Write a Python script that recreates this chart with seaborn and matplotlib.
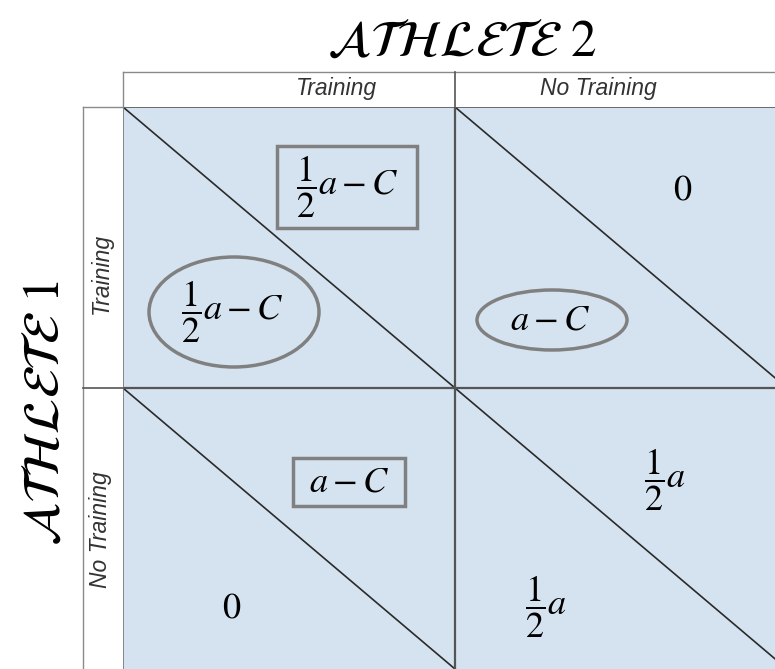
import numpy as np
import pandas as pd
import seaborn as sns
import matplotlib.pyplot as plt
from matplotlib.colors import ListedColormap
from matplotlib.patches import Ellipse, Rectangle

# strategies and payoffs of the game
strategies = ['Training', 'No Training']
# payoff to athlete 1 (lower-left triangle) and athlete 2 (upper-right triangle)
payoff_1 = [[r'\dfrac{1}{2}a-C', r'a-C'], [r'0', r'\dfrac{1}{2}a']]
payoff_2 = [[r'\dfrac{1}{2}a-C', r'0'], [r'a-C', r'\dfrac{1}{2}a']]
# best responses: athlete 1 circled, athlete 2 boxed
best_1 = [[1, 1], [0, 0]]
best_2 = [[1, 0], [1, 0]]

plt.rcParams['mathtext.fontset'] = 'stix'

W, H = 775, 669
fig = plt.figure(figsize=(7.75, 6.69), dpi=100)

# cell grid (pixels)
x0, y0, cw, ch = 123, 107, 332, 281
ax = fig.add_axes([x0 / W, 1 - (y0 + 2 * ch) / H, 2 * cw / W, 2 * ch / H])
df = pd.DataFrame(np.zeros((2, 2)), index=strategies, columns=strategies)
sns.heatmap(df, ax=ax, cmap=ListedColormap(['#d5e3f0']), cbar=False,
            xticklabels=False, yticklabels=False)
for i in range(2):
    for j in range(2):
        ax.plot([j, j + 1], [i, i + 1], color='#2a2a2a', lw=1.2)
ax.axhline(1, color='#555555', lw=1.6)
ax.axvline(1, color='#555555', lw=1.6)
ax.axhline(0, color='#555555', lw=1.2)
ax.axvline(0, color='#777777', lw=1.2)
ax.set_xlim(0, 2)
ax.set_ylim(2, 0)
ax.axis('off')

# overlay in pixel coordinates for headers and payoffs
ov = fig.add_axes([0, 0, 1, 1], facecolor='none')
ov.set_xlim(0, W)
ov.set_ylim(H, 0)
ov.axis('off')

hc = '#8a8a8a'
ov.plot([x0, W], [72, 72], color=hc, lw=1)
ov.plot([x0, x0], [72, y0], color=hc, lw=1)
ov.plot([x0 + cw, x0 + cw], [72, y0], color='#555555', lw=1.2)
ov.plot([83, 83], [y0, H], color=hc, lw=1)
ov.plot([83, x0], [y0, y0], color=hc, lw=1)
ov.plot([83, x0], [y0 + ch, y0 + ch], color='#555555', lw=1.2)

hdr = dict(ha='center', va='center', fontsize=16.5, style='italic',
           family='Liberation Sans', color='#333333')
ov.text(337, 88, strategies[0], **hdr)
ov.text(598, 88, strategies[1], **hdr)
ov.text(101, 273, strategies[0], rotation=90, **hdr)
ov.text(101, 530, strategies[1], rotation=90, **hdr)

ov.text(462, 42, r'$\mathcal{ATHLETE}\ \mathit{2}$', ha='center', va='center', fontsize=37)
ov.text(45, 413, r'$\mathcal{ATHLETE}\ \mathit{1}$', ha='center', va='center',
        fontsize=37, rotation=90)

# payoff positions in pixels
ur_pos = [[(347, 187), (683, 190)], [(349, 482), (665, 480)]]
ll_pos = [[(232, 312), (550, 320)], [(232, 608), (546, 607)]]
mc = '#808080'
for i in range(2):
    for j in range(2):
        ux, uy = ur_pos[i][j]
        lx, ly = ll_pos[i][j]
        ov.text(ux, uy, '$' + payoff_2[i][j] + '$', ha='center', va='center', fontsize=26)
        ov.text(lx, ly, '$' + payoff_1[i][j] + '$', ha='center', va='center', fontsize=26)
        if best_2[i][j]:
            frac = 'frac' in payoff_2[i][j]
            bw, bh = (140, 82) if frac else (112, 48)
            ov.add_patch(Rectangle((ux - bw / 2, uy - bh / 2), bw, bh, fill=False,
                                   edgecolor=mc, lw=2.5))
        if best_1[i][j]:
            frac = 'frac' in payoff_1[i][j]
            ew, eh = (170, 110) if frac else (150, 60)
            ov.add_patch(Ellipse((lx + 2, ly), ew, eh, fill=False, edgecolor=mc, lw=2.5))

fig.savefig('out.png', dpi=100)
